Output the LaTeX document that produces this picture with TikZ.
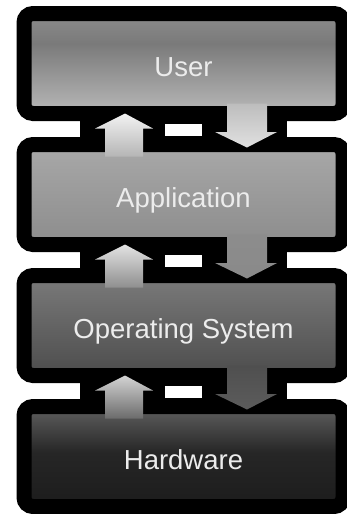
\documentclass[tikz,border=0pt]{standalone}
\usepackage{fontspec}
\setmainfont{Liberation Sans}
\usetikzlibrary{positioning}

\definecolor{labelgray}{HTML}{ECECEC}
\definecolor{userT}{HTML}{8C8C8C}
\definecolor{userM}{HTML}{7A7A7A}
\definecolor{userB}{HTML}{B8B8B8}
\definecolor{hwT}{HTML}{606060}
\definecolor{hwM}{HTML}{262626}
\definecolor{hwB}{HTML}{1C1C1C}
\pgfdeclareverticalshading{userfill}{100bp}{color(0bp)=(userB); color(25bp)=(userB); color(60bp)=(userM); color(75bp)=(userT); color(100bp)=(userT)}
\pgfdeclareverticalshading{hwfill}{100bp}{color(0bp)=(hwB); color(25bp)=(hwB); color(52bp)=(hwM); color(75bp)=(hwT); color(100bp)=(hwT)}

\begin{document}
\begin{tikzpicture}[x=1pt,y=1pt,node distance=31pt,
    layer/.style={draw=black,line width=15pt,rounded corners=9pt,minimum width=319pt,minimum height=100pt,
      inner sep=0pt,outer sep=0pt,text=labelgray,font=\fontsize{27.5}{27.5}\selectfont,text height=25.5pt,text depth=0pt}]
  \useasboundingbox[fill=white] (0,0) rectangle (347,-514);
  \node[layer,shading=userfill] (user) at (183.5,-63.5) {User};
  \node[layer,top color=black!34,bottom color=black!45] (app) [below=of user] {Application};
  \node[layer,top color=black!52,bottom color=black!70] (os) [below=of app] {Operating System};
  \node[layer,shading=hwfill] (hw) [below=of os] {Hardware};

  \foreach \hi/\lo/\upt/\upb/\dnt/\dnb in {user/app/5/29/26/12, app/os/11/44/45/46, os/hw/17/58/69/64}{
    % black bridge between two layers
    \fill[black] ([xshift=56pt]\hi.south west) rectangle ([xshift=263pt]\lo.north west);
    \fill[white] ([shift={(141pt,-10pt)}]\hi.south west) rectangle ([shift={(178pt,9pt)}]\lo.north west);
    % up arrow
    \shade[top color=black!\upt,bottom color=black!\upb]
      ([xshift=101pt]\hi.south west) -- ([shift={(129pt,-15pt)}]\hi.south west) -- ([shift={(119pt,-15pt)}]\hi.south west)
      -- ([shift={(119pt,-12pt)}]\lo.north west) -- ([shift={(81pt,-12pt)}]\lo.north west)
      -- ([shift={(81pt,-15pt)}]\hi.south west) -- ([shift={(71pt,-15pt)}]\hi.south west) -- cycle;
    % down arrow
    \shade[top color=black!\dnt,bottom color=black!\dnb]
      ([shift={(203pt,10pt)}]\hi.south west) -- ([shift={(243pt,10pt)}]\hi.south west) -- ([shift={(243pt,-18.5pt)}]\hi.south west)
      -- ([shift={(253pt,-18.5pt)}]\hi.south west) -- ([shift={(223pt,-3pt)}]\lo.north west)
      -- ([shift={(191pt,-18.5pt)}]\hi.south west) -- ([shift={(203pt,-18.5pt)}]\hi.south west) -- cycle;
  }
\end{tikzpicture}
\end{document}
